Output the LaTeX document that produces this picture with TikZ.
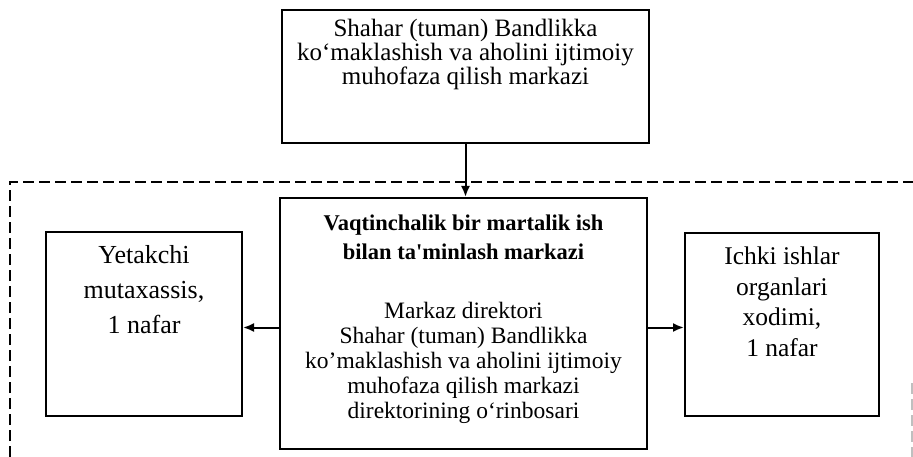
\documentclass[tikz,border=0pt]{standalone}
\usepackage{fontspec}
\setmainfont{Liberation Serif}
\usetikzlibrary{positioning,arrows.meta}
\tikzset{
  box/.style={draw,line width=2pt,inner sep=0pt},
  txt/.style={align=center,inner sep=0pt},
  arr/.style={line width=2pt,-{Latex[length=11pt,width=9pt]}},
  frame/.style={line width=1.8pt,dash pattern=on 11pt off 5pt}
}
\begin{document}
\begin{tikzpicture}[x=1pt,y=-1pt]
\useasboundingbox (0,0) rectangle (913,457);
\draw[frame] (10,457) -- (10,182) -- (913,182);
\draw[frame,lightgray] (912,383) -- (912,457);
\node[box,minimum width=367pt,minimum height=133pt] (shahar) at (465.5,76.5) {};
\node[box,minimum width=367pt,minimum height=251pt] (markaz) at (463.5,323.5) {};
\node[box,minimum width=196pt,minimum height=184pt] (yetakchi) at (144,324) {};
\node[box,minimum width=194pt,minimum height=183pt] (ichki) at (782,324.5) {};
\node[txt,font=\fontsize{25}{20.5}\selectfont,below=10pt of shahar.north] (shahartxt)
  {Shahar (tuman) Bandlikka\\ko‘maklashish va aholini ijtimoiy\\muhofaza qilish markazi};
\node[txt,font=\fontsize{22.5}{29}\selectfont\bfseries,below=18pt of markaz.north] (markaztitle)
  {Vaqtinchalik bir martalik ish\\bilan ta\textquotesingle minlash markazi};
\node[txt,font=\fontsize{23.5}{25}\selectfont,below=42pt of markaztitle] (markaztxt)
  {Markaz direktori\\Shahar (tuman) Bandlikka\\ko’maklashish va aholini ijtimoiy\\muhofaza qilish markazi\\direktorining o‘rinbosari};
\node[txt,font=\fontsize{26}{35}\selectfont,below=14pt of yetakchi.north] (yetakchitxt)
  {Yetakchi\\mutaxassis,\\1 nafar};
\node[txt,font=\fontsize{25.5}{30.5}\selectfont,below=15pt of ichki.north] (ichkitxt)
  {Ichki ishlar\\organlari\\xodimi,\\1 nafar};
\draw[arr] (shahar.south) -- (shahar.south |- markaz.north);
\draw[arr] ([yshift=-4pt]markaz.west) -- ([yshift=-4pt]markaz.west -| yetakchi.east);
\draw[arr] ([yshift=-4pt]markaz.east) -- ([yshift=-4pt]markaz.east -| ichki.west);
\end{tikzpicture}
\end{document}
